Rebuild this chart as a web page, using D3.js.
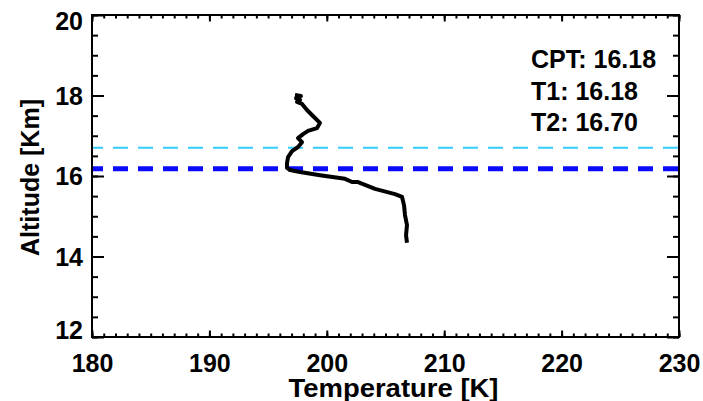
<!DOCTYPE html>
<html>
<head>
<meta charset="utf-8">
<script src="https://cdn.jsdelivr.net/npm/d3@7"></script>
<style>
    body { margin: 0; background: #fff; }
    svg text { font-family: "Liberation Sans", Arial, sans-serif; font-weight: bold; fill: #000; }
    .axis .domain { display: none; }
    .axis line { stroke: #000; stroke-width: 2; }
</style>
</head>
<body>
<div id="chart"></div>
<script>
// temperature profile (K) vs altitude (km)
const temperature = [197.29, 197.80, 197.38, 197.72, 197.46, 197.89, 198.31, 198.82, 199.42, 199.17,
    198.40, 197.98, 197.55, 197.89, 197.55, 197.04, 196.70, 196.61, 196.61, 196.87,
    197.72, 199.42, 201.55, 202.15, 202.66, 204.11, 205.81, 206.41, 206.58, 206.66,
    206.83, 206.75, 206.83];
const altitude = [18.01, 17.99, 17.93, 17.89, 17.84, 17.79, 17.64, 17.49, 17.32, 17.19,
    17.12, 17.04, 16.94, 16.84, 16.72, 16.62, 16.47, 16.32, 16.20, 16.15,
    16.10, 16.02, 15.93, 15.85, 15.85, 15.68, 15.55, 15.48, 15.27, 15.03,
    14.78, 14.53, 14.34];

const cpt = 16.18;
const t1 = 16.18;
const t2 = 16.70;

const xTicks = [180, 190, 200, 210, 220, 230];
const yTicks = [12, 14, 16, 18, 20];
const xTitle = 'Temperature [K]';
const yTitle = 'Altitude [Km]';
const notes = [`CPT: ${cpt.toFixed(2)}`, `T1: ${t1.toFixed(2)}`, `T2: ${t2.toFixed(2)}`];

const outerWidth = 703;
const outerHeight = 401;
const margin = { top: 15, left: 92, bottom: 64, right: 24 };
const innerWidth = outerWidth - margin.left - margin.right;
const innerHeight = outerHeight - margin.top - margin.bottom;

const xScale = d3.scaleLinear().domain([180, 230]).range([0, innerWidth]);
const yScale = d3.scaleLinear().domain([12, 20]).range([innerHeight, 0]);

const data = temperature.map((t, i) => ({ t, a: altitude[i] }));

const svg = d3.select('#chart')
    .append('svg')
        .attr('width', outerWidth)
        .attr('height', outerHeight)
    .append('g')
        .attr('transform', `translate(${margin.left},${margin.top})`);

const xMinor = d3.range(180, 231, 1);
const yMinor = d3.range(12, 20.01, 0.5);

// bottom / top
svg.append('g').classed('axis', true)
    .attr('transform', `translate(0,${innerHeight})`)
    .call(d3.axisBottom(xScale).tickValues(xMinor).tickSize(-3.5).tickFormat(''));
svg.append('g').classed('axis', true)
    .attr('transform', `translate(0,${innerHeight})`)
    .call(d3.axisBottom(xScale).tickValues(xTicks).tickSize(-6.5).tickPadding(17).tickFormat(d3.format('d')))
    .selectAll('text')
        .style('font-size', '25px');
svg.append('g').classed('axis', true)
    .call(d3.axisTop(xScale).tickValues(xMinor).tickSize(-3.5).tickFormat(''));
svg.append('g').classed('axis', true)
    .call(d3.axisTop(xScale).tickValues(xTicks).tickSize(-6.5).tickFormat(''));

// left / right
svg.append('g').classed('axis', true)
    .call(d3.axisLeft(yScale).tickValues(yMinor).tickSize(-6).tickFormat(''));
svg.append('g').classed('axis', true)
    .call(d3.axisLeft(yScale).tickValues(yTicks).tickSize(-12).tickPadding(9).tickFormat(d3.format('d')))
    .selectAll('text')
        .style('font-size', '25px')
        .attr('dy', d => d === 20 ? '0.57em' : d === 12 ? '0.05em' : '0.35em');
svg.append('g').classed('axis', true)
    .attr('transform', `translate(${innerWidth},0)`)
    .call(d3.axisRight(yScale).tickValues(yMinor).tickSize(-6).tickFormat(''));
svg.append('g').classed('axis', true)
    .attr('transform', `translate(${innerWidth},0)`)
    .call(d3.axisRight(yScale).tickValues(yTicks).tickSize(-12).tickFormat(''));

// tropopause lines
svg.append('line')
    .attr('x1', 0).attr('x2', innerWidth)
    .attr('y1', yScale(t2)).attr('y2', yScale(t2))
    .attr('stroke', '#33ccff')
    .attr('stroke-width', 2)
    .attr('stroke-dasharray', '15 10')
    .attr('stroke-dashoffset', 4);

svg.append('line')
    .attr('x1', 0).attr('x2', innerWidth)
    .attr('y1', yScale(t1)).attr('y2', yScale(t1))
    .attr('stroke', '#0a0aff')
    .attr('stroke-width', 5)
    .attr('stroke-dasharray', '15 10')
    .attr('stroke-dashoffset', 4);

const lineGenerator = d3.line()
    .x(d => xScale(d.t))
    .y(d => yScale(d.a));

svg.append('path')
    .attr('d', lineGenerator(data))
    .attr('fill', 'none')
    .attr('stroke', '#000')
    .attr('stroke-width', 4)
    .attr('stroke-linejoin', 'round');

// frame
svg.append('rect')
    .attr('width', innerWidth)
    .attr('height', innerHeight)
    .attr('fill', 'none')
    .attr('stroke', '#000')
    .attr('stroke-width', 2);

svg.selectAll('.note')
    .data(notes)
    .join('text')
        .classed('note', true)
        .attr('x', 439)
        .attr('y', (d, i) => 53 + i * 31.7)
        .style('font-size', '25px')
        .text(d => d);

svg.append('text')
    .attr('x', innerWidth / 2 + 8)
    .attr('y', 382)
    .attr('text-anchor', 'middle')
    .attr('textLength', 210)
    .attr('lengthAdjust', 'spacingAndGlyphs')
    .style('font-size', '25px')
    .text(xTitle);

svg.append('text')
    .attr('transform', `translate(${38.5 - margin.left},${177.5 - margin.top}) rotate(-90)`)
    .attr('text-anchor', 'middle')
    .style('font-size', '25px')
    .text(yTitle);
</script>
</body>
</html>
